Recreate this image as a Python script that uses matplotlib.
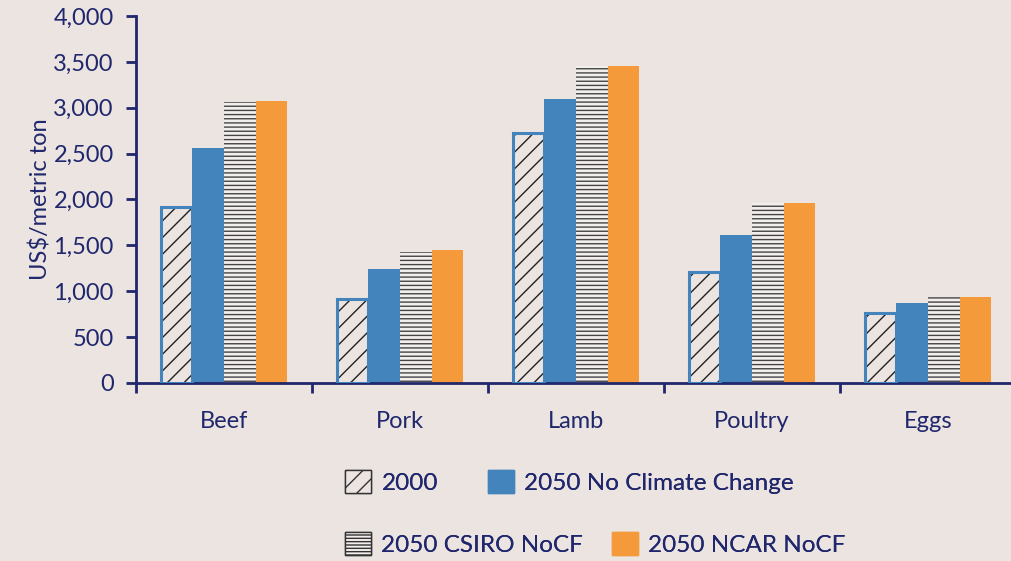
import numpy as np
import matplotlib.pyplot as plt
from matplotlib.patches import Patch

# Data
categories = ["Beef", "Pork", "Lamb", "Poultry", "Eggs"]
y2000 = [1920, 915, 2725, 1210, 763]
no_cc = [2561, 1243, 3095, 1613, 872]
csiro = [3065, 1430, 3455, 1962, 937]
ncar = [3075, 1450, 3455, 1962, 937]
yticks = [0, 500, 1000, 1500, 2000, 2500, 3000, 3500, 4000]

bg = "#ebe4e1"
navy = "#20276c"
blue = "#4384bd"
orange = "#f49a3a"

plt.rcParams['font.family'] = ['Lato', 'DejaVu Sans']
plt.rcParams['hatch.linewidth'] = 1.0

fig = plt.figure(figsize=(10.12, 5.61), dpi=100, facecolor=bg)
ax = fig.add_axes([0.1344, 0.3173, 0.8696, 0.6542])
ax.set_facecolor(bg)

x = np.arange(len(categories))
w = 0.18
off = [-1.5 * w, -0.5 * w, 0.5 * w, 1.5 * w]

# 2000: hatched, blue outline
ax.bar(x + off[0], y2000, w, color=bg, edgecolor="#222222", hatch="//", linewidth=0, zorder=2)
ax.bar(x + off[0], y2000, w, fill=False, edgecolor=blue, linewidth=2.2, zorder=3)
ax.bar(x + off[1], no_cc, w, color=blue, linewidth=0, zorder=2)
ax.bar(x + off[2], csiro, w, color="#f2eeec", edgecolor="#444444", hatch="----", linewidth=0, zorder=2)
ax.bar(x + off[3], ncar, w, color=orange, linewidth=0, zorder=2)

ax.set_xlim(-0.5, len(categories) - 0.5)
ax.set_ylim(0, 4000)
ax.set_yticks(yticks)
ax.set_yticklabels([f"{v:,}" for v in yticks])
ax.set_xticks(np.arange(len(categories) + 1) - 0.5)
ax.set_xticklabels([])
ax.set_xticks(x, minor=True)
ax.set_xticklabels(categories, minor=True)
ax.tick_params(axis='x', which='minor', length=0, pad=20, labelsize=17, labelcolor=navy)
ax.tick_params(axis='x', which='major', length=7, width=2, color=navy)
ax.tick_params(axis='y', length=7, width=2, color=navy, labelsize=17, labelcolor=navy, pad=9)

for s in ["top", "right"]:
    ax.spines[s].set_visible(False)
for s in ["left", "bottom"]:
    ax.spines[s].set_color(navy)
    ax.spines[s].set_linewidth(2)

ax.set_ylabel("US$/metric ton", fontsize=17, color=navy, labelpad=1)

# Legend entries placed one by one, as in the reference
h_2000 = Patch(facecolor=bg, edgecolor="#333333", hatch="//", linewidth=1)
h_nocc = Patch(facecolor=blue, edgecolor=blue)
h_csiro = Patch(facecolor="#f2eeec", edgecolor="#333333", hatch="-----", linewidth=1)
h_ncar = Patch(facecolor=orange, edgecolor=orange)

leg_kw = dict(frameon=False, fontsize=17.5, labelcolor=navy, handlelength=1.08,
              handleheight=1.08, handletextpad=0.42, borderaxespad=0, borderpad=0,
              loc="center left")
entries = [(h_2000, "2000", 345, 482), (h_nocc, "2050 No Climate Change", 488, 482),
           (h_csiro, "2050 CSIRO NoCF", 345, 544), (h_ncar, "2050 NCAR NoCF", 612, 544)]
for h, lab, px, py in entries:
    fig.add_artist(fig.legend([h], [lab], bbox_to_anchor=(px / 1012, 1 - py / 561), **leg_kw))

fig.savefig("out.png", dpi=100, facecolor=bg)
